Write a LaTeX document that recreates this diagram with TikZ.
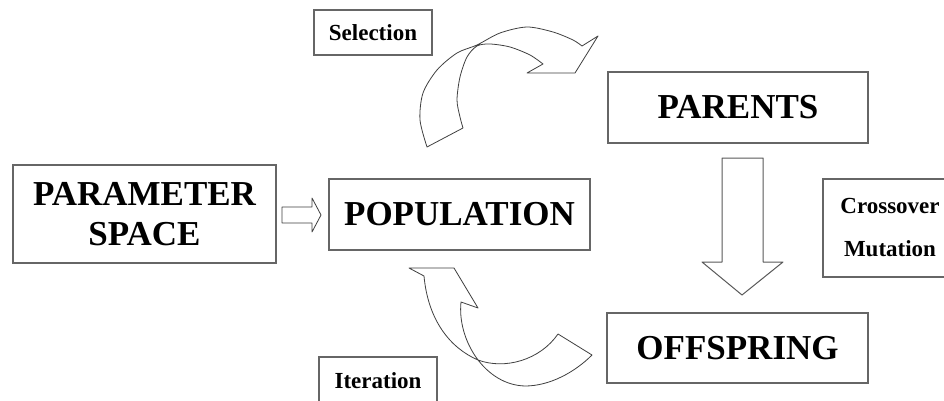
\documentclass[tikz,border=0pt]{standalone}
\usepackage{fontspec}
\setmainfont{Liberation Serif}
\begin{document}
\begin{tikzpicture}[x=1pt,y=-1pt,
  box/.style={draw=black!60, line width=1.1pt, rectangle, align=center, inner sep=0pt,
    font=\bfseries\fontsize{35}{40}\selectfont},
  smallbox/.style={box, font=\bfseries\fontsize{23}{43}\selectfont},
  blockarrow/.style={draw=black!75, line width=0.8pt, line join=round, fill=white}]
\clip (0,0) rectangle (944,401);
\fill[white] (0,0) rectangle (944,401);

% boxes
\node[box, minimum width=263pt, minimum height=98pt] (param) at (144.5,214) {PARAMETER\\SPACE};
\node[box, minimum width=261pt, minimum height=71pt] (pop) at (459.5,214.5) {POPULATION};
\node[box, minimum width=260pt, minimum height=71pt] (parents) at (738,107.5) {PARENTS};
\node[box, minimum width=261pt, minimum height=70pt] (off) at (737.5,348) {OFFSPRING};
\node[smallbox, minimum width=134pt, minimum height=98pt] (cross) at (890,228) {Crossover\\Mutation};
\node[smallbox, minimum width=118pt, minimum height=45pt] (sel) at (373,32.5) {Selection};
\node[smallbox, minimum width=118pt, minimum height=48pt] (iter) at (378,381) {Iteration};

% small arrow parameter -> population
\draw[blockarrow] (282,207) -- (312,207) -- (312,198) -- (321,215) -- (312,232)
  -- (312,223) -- (282,223) -- cycle;

% big down arrow parents -> offspring
\draw[blockarrow, draw=black!65, line width=1pt] (722,158) -- (763,158) -- (763,262) -- (783,262)
  -- (742,295) -- (702,262) -- (722,262) -- cycle;

% selection curved arrow
\draw[blockarrow]
  plot[smooth] coordinates {(427,147) (420,120) (423,93) (437,70) (457,53) (477,45)
    (500,33) (527,27) (553,32) (573,40) (582,46)}
  -- (598,36) -- (575,73) -- (527,73) -- (543,64)
  -- plot[smooth] coordinates {(543,64) (530,55) (510,47) (490,44) (477,46) (467,57)
    (460,77) (457,100) (460,117) (463,128)}
  -- cycle;

% iteration curved arrow (twisted ribbon)
\draw[blockarrow]
  (409,268) -- (454,268) -- (478,308) -- (461,302)
  .. controls (457,340) and (485,385) .. (525,386)
  .. controls (550,386) and (575,372) .. (592,355)
  -- (558,334)
  .. controls (540,360) and (505,370) .. (478,360)
  .. controls (450,348) and (428,320) .. (424,276)
  -- cycle;
\end{tikzpicture}
\end{document}
